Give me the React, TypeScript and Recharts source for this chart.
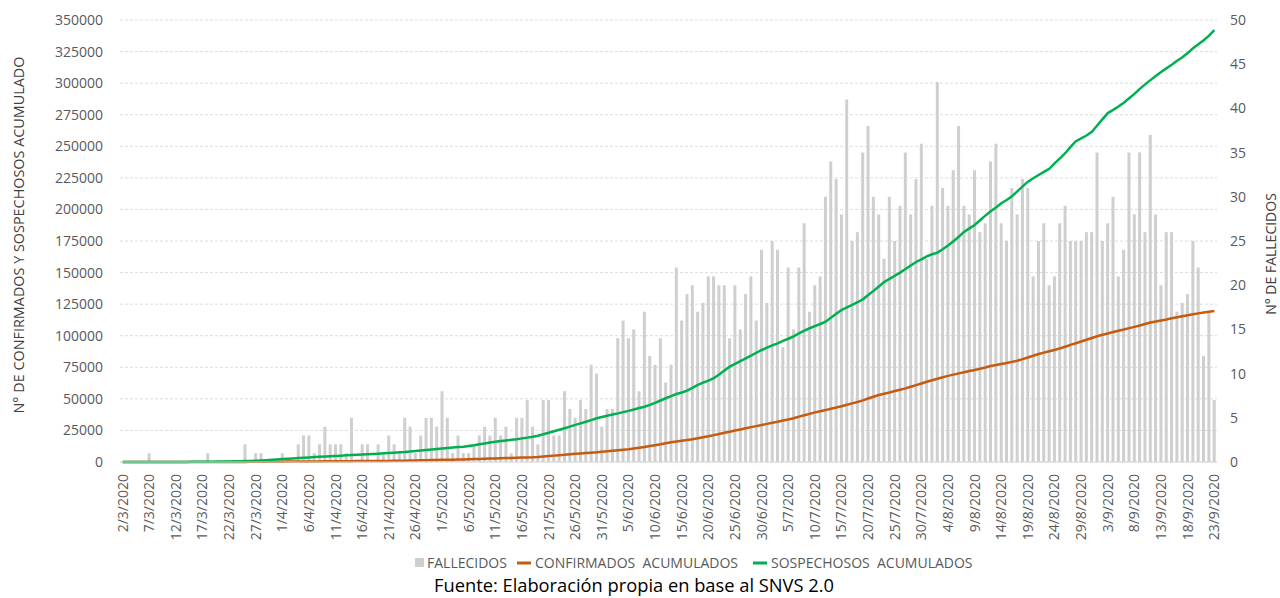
import React from 'react';
import { ComposedChart, Bar, Line, XAxis, YAxis, CartesianGrid } from 'recharts';

// Month, first day, last day of the daily series (2/3/2020 – 23/9/2020)
const monthSpans: [number, number, number][] = [
  [3, 2, 31], [4, 1, 30], [5, 1, 31], [6, 1, 30], [7, 1, 31], [8, 1, 31], [9, 1, 23],
];
const dates: string[] = [];
for (const [m, s, e] of monthSpans) for (let d = s; d <= e; d++) dates.push(`${d}/${m}/2020`);

const fallecidos: number[] = [
  0, 0, 0, 0, 0, 1, 0, 0, 0, 0,
  0, 0, 0, 0, 0, 0, 1, 0, 0, 0,
  0, 0, 0, 2, 0, 1, 1, 0, 0, 0,
  1, 0, 0, 2, 3, 3, 1, 2, 4, 2,
  2, 2, 1, 5, 0, 2, 2, 0, 2, 1,
  3, 2, 1, 5, 4, 1, 3, 5, 5, 4,
  8, 5, 1, 3, 1, 1, 2, 3, 4, 3,
  5, 3, 4, 1, 5, 5, 7, 4, 2, 7,
  7, 3, 3, 8, 6, 5, 7, 6, 11, 10,
  4, 6, 6, 14, 16, 14, 15, 8, 17, 12,
  11, 14, 9, 11, 22, 16, 19, 20, 17, 18,
  21, 21, 20, 20, 14, 20, 15, 19, 21, 16,
  24, 18, 25, 24, 13, 22, 15, 22, 27, 17,
  20, 21, 30, 34, 32, 28, 41, 25, 26, 35,
  38, 30, 28, 23, 30, 25, 29, 35, 28, 32,
  36, 23, 29, 43, 31, 29, 33, 38, 29, 28,
  33, 26, 27, 34, 36, 27, 25, 31, 28, 32,
  31, 21, 25, 27, 20, 21, 27, 29, 25, 25,
  25, 26, 26, 35, 25, 27, 30, 21, 24, 35,
  28, 35, 26, 37, 28, 20, 26, 26, 17, 18,
  19, 25, 22, 12, 17, 7,
];

const confirmados: number[] = [
  0, 0, 0, 0, 0, 0, 0, 0, 0, 0,
  0, 0, 0, 0, 0, 0, 0, 0, 0, 0,
  20, 40, 60, 80, 100, 130, 160, 190, 220, 250,
  280, 310, 340, 370, 400, 430, 460, 490, 520, 550,
  580, 610, 640, 670, 700, 730, 760, 790, 820, 850,
  880, 910, 950, 1000, 1100, 1200, 1300, 1400, 1500, 1600,
  1700, 1780, 1860, 1950, 2050, 2180, 2300, 2430, 2560, 2700,
  2850, 2980, 3100, 3230, 3360, 3480, 3600, 3700, 3950, 4300,
  4700, 5050, 5400, 5800, 6200, 6500, 6800, 7100, 7400, 7700,
  8100, 8500, 8900, 9300, 9700, 10100, 10700, 11300, 11900, 12600,
  13300, 14000, 14800, 15600, 16300, 16900, 17500, 18100, 18800, 19600,
  20400, 21300, 22200, 23100, 24000, 24900, 25800, 26700, 27600, 28400,
  29300, 30200, 31100, 31900, 32800, 33700, 34600, 35900, 37000, 38100,
  39300, 40200, 41100, 42100, 43100, 44200, 45300, 46400, 47500, 48800,
  50300, 51700, 53100, 54100, 55100, 56200, 57200, 58300, 59600, 60900,
  62200, 63500, 64700, 65900, 67100, 68200, 69200, 70200, 71100, 72000,
  72900, 73900, 74900, 76000, 76800, 77600, 78400, 79300, 80200, 81500,
  82800, 84100, 85500, 86600, 87700, 88700, 90000, 91300, 92700, 94000,
  95400, 96800, 98200, 99600, 100700, 101800, 102900, 103900, 104900, 106000,
  107000, 108100, 109300, 110500, 111300, 112100, 112900, 113800, 114600, 115400,
  116200, 117000, 117700, 118400, 119000, 119600,
];

const sospechosos: number[] = [
  0, 0, 0, 0, 0, 0, 0, 0, 10, 20,
  30, 50, 80, 100, 120, 150, 200, 260, 320, 400,
  480, 560, 650, 750, 860, 1000, 1200, 1450, 1700, 2000,
  2300, 2600, 2850, 3100, 3350, 3600, 3900, 4200, 4400, 4600,
  4800, 5000, 5250, 5500, 5700, 5900, 6100, 6350, 6600, 6850,
  7100, 7350, 7650, 7900, 8300, 8700, 9100, 9500, 9900, 10300,
  10700, 11100, 11500, 11800, 12100, 12700, 13300, 14000, 14700, 15400,
  16100, 16600, 17100, 17600, 18100, 18700, 19300, 20000, 20800, 22000,
  23200, 24300, 25500, 26700, 28000, 29400, 30600, 31900, 33200, 34600,
  35600, 36600, 37600, 38500, 39500, 40500, 41600, 42700, 43800, 45200,
  46800, 48700, 50500, 52200, 53800, 55000, 56500, 58700, 61000, 62800,
  64500, 66300, 69300, 72400, 75500, 77700, 79900, 82100, 84200, 86500,
  88700, 90500, 92300, 94000, 95900, 97600, 99500, 101800, 104100, 105900,
  107600, 109300, 111100, 114200, 117300, 120400, 122500, 124500, 126500, 128800,
  132200, 135500, 139000, 142500, 145000, 147500, 150000, 152800, 155600, 158400,
  160500, 162800, 164500, 165800, 168500, 171500, 174800, 178400, 182200, 185000,
  187700, 191400, 195100, 198500, 201600, 204900, 207500, 210400, 214300, 218200,
  222000, 224700, 227300, 229700, 232200, 236500, 240500, 244500, 249500, 254000,
  256300, 258500, 261500, 266500, 271500, 276300, 278800, 281500, 284500, 288000,
  291500, 295500, 299000, 302400, 305600, 308800, 311700, 314500, 317800, 320500,
  323800, 327600, 330800, 334000, 337600, 342000,
];

const leftTicks = [0, 25000, 50000, 75000, 100000, 125000, 150000, 175000, 200000, 225000, 250000, 275000, 300000, 325000, 350000];
const rightTicks = [0, 5, 10, 15, 20, 25, 30, 35, 40, 45, 50];

const data = dates.map((date, i) => ({
  date,
  fallecidos: fallecidos[i],
  confirmados: confirmados[i],
  sospechosos: sospechosos[i],
}));

const FONT = '"Open Sans", sans-serif';
const GREY_TEXT = '#595959';

const DateTick = (props: any) => {
  const { x, y, payload } = props;
  const ty = y + 4;
  return (
    <text
      x={x}
      y={ty}
      transform={`rotate(-90 ${x} ${ty})`}
      textAnchor="end"
      dy="0.35em"
      fontSize={14}
      fontFamily={FONT}
      fill={GREY_TEXT}
    >
      {payload.value}
    </text>
  );
};

export default function App() {
  return (
    <div style={{ position: 'absolute', left: 0, top: 0, width: 1280, height: 598, background: '#fff', fontFamily: FONT }}>
      <ComposedChart
        width={1280}
        height={598}
        data={data}
        margin={{ top: 20, right: 0, bottom: 0, left: 0 }}
        barCategoryGap={0}
      >
        <CartesianGrid yAxisId="left" vertical={false} stroke="#DCDCDC" strokeDasharray="3 2" />
        <XAxis
          dataKey="date"
          interval={4}
          height={136}
          tickLine={false}
          axisLine={{ stroke: '#D9D9D9' }}
          tick={<DateTick />}
        />
        <YAxis
          yAxisId="left"
          width={120}
          domain={[0, 350000]}
          ticks={leftTicks}
          axisLine={false}
          tickLine={false}
          tickMargin={11}
          tick={{ fill: GREY_TEXT, fontSize: 14, fontFamily: FONT }}
        />
        <YAxis
          yAxisId="right"
          orientation="right"
          width={63}
          domain={[0, 50]}
          ticks={rightTicks}
          axisLine={false}
          tickLine={false}
          tickMargin={7}
          tick={{ fill: GREY_TEXT, fontSize: 14, fontFamily: FONT, textAnchor: 'start' }}
        />
        <Bar yAxisId="right" dataKey="fallecidos" fill="#CFCFCF" barSize={3} isAnimationActive={false} />
        <Line yAxisId="left" type="linear" dataKey="confirmados" stroke="#C55A11" strokeWidth={2.5} dot={false} isAnimationActive={false} />
        <Line yAxisId="left" type="linear" dataKey="sospechosos" stroke="#00B050" strokeWidth={2.5} dot={false} isAnimationActive={false} />
      </ComposedChart>
      <svg width={1280} height={598} style={{ position: 'absolute', left: 0, top: 0, pointerEvents: 'none' }}>
        <text transform="translate(24,235) rotate(-90)" textAnchor="middle" fontSize={14.4} fontFamily={FONT} fill="#404040">
          N° DE CONFIRMADOS Y SOSPECHOSOS ACUMULADO
        </text>
        <text transform="translate(1276,254) rotate(-90)" textAnchor="middle" fontSize={14} fontFamily={FONT} fill="#404040">
          N° DE FALLECIDOS
        </text>
        <rect x={415} y={558} width={9} height={9} fill="#CFCFCF" />
        <text x={427} y={568} fontSize={14} fontFamily={FONT} fill={GREY_TEXT} style={{ whiteSpace: 'pre' }}>FALLECIDOS</text>
        <line x1={517} x2={531} y1={563} y2={563} stroke="#C55A11" strokeWidth={3} />
        <text x={535} y={568} fontSize={14} fontFamily={FONT} fill={GREY_TEXT} style={{ whiteSpace: 'pre' }}>CONFIRMADOS  ACUMULADOS</text>
        <line x1={753} x2={767} y1={563} y2={563} stroke="#00B050" strokeWidth={3} />
        <text x={771} y={568} fontSize={14} fontFamily={FONT} fill={GREY_TEXT} style={{ whiteSpace: 'pre' }}>SOSPECHOSOS  ACUMULADOS</text>
        <text x={634} y={592} textAnchor="middle" fontSize={18.3} fontFamily={FONT} fill="#000">
          Fuente: Elaboración propia en base al SNVS 2.0
        </text>
      </svg>
    </div>
  );
}
